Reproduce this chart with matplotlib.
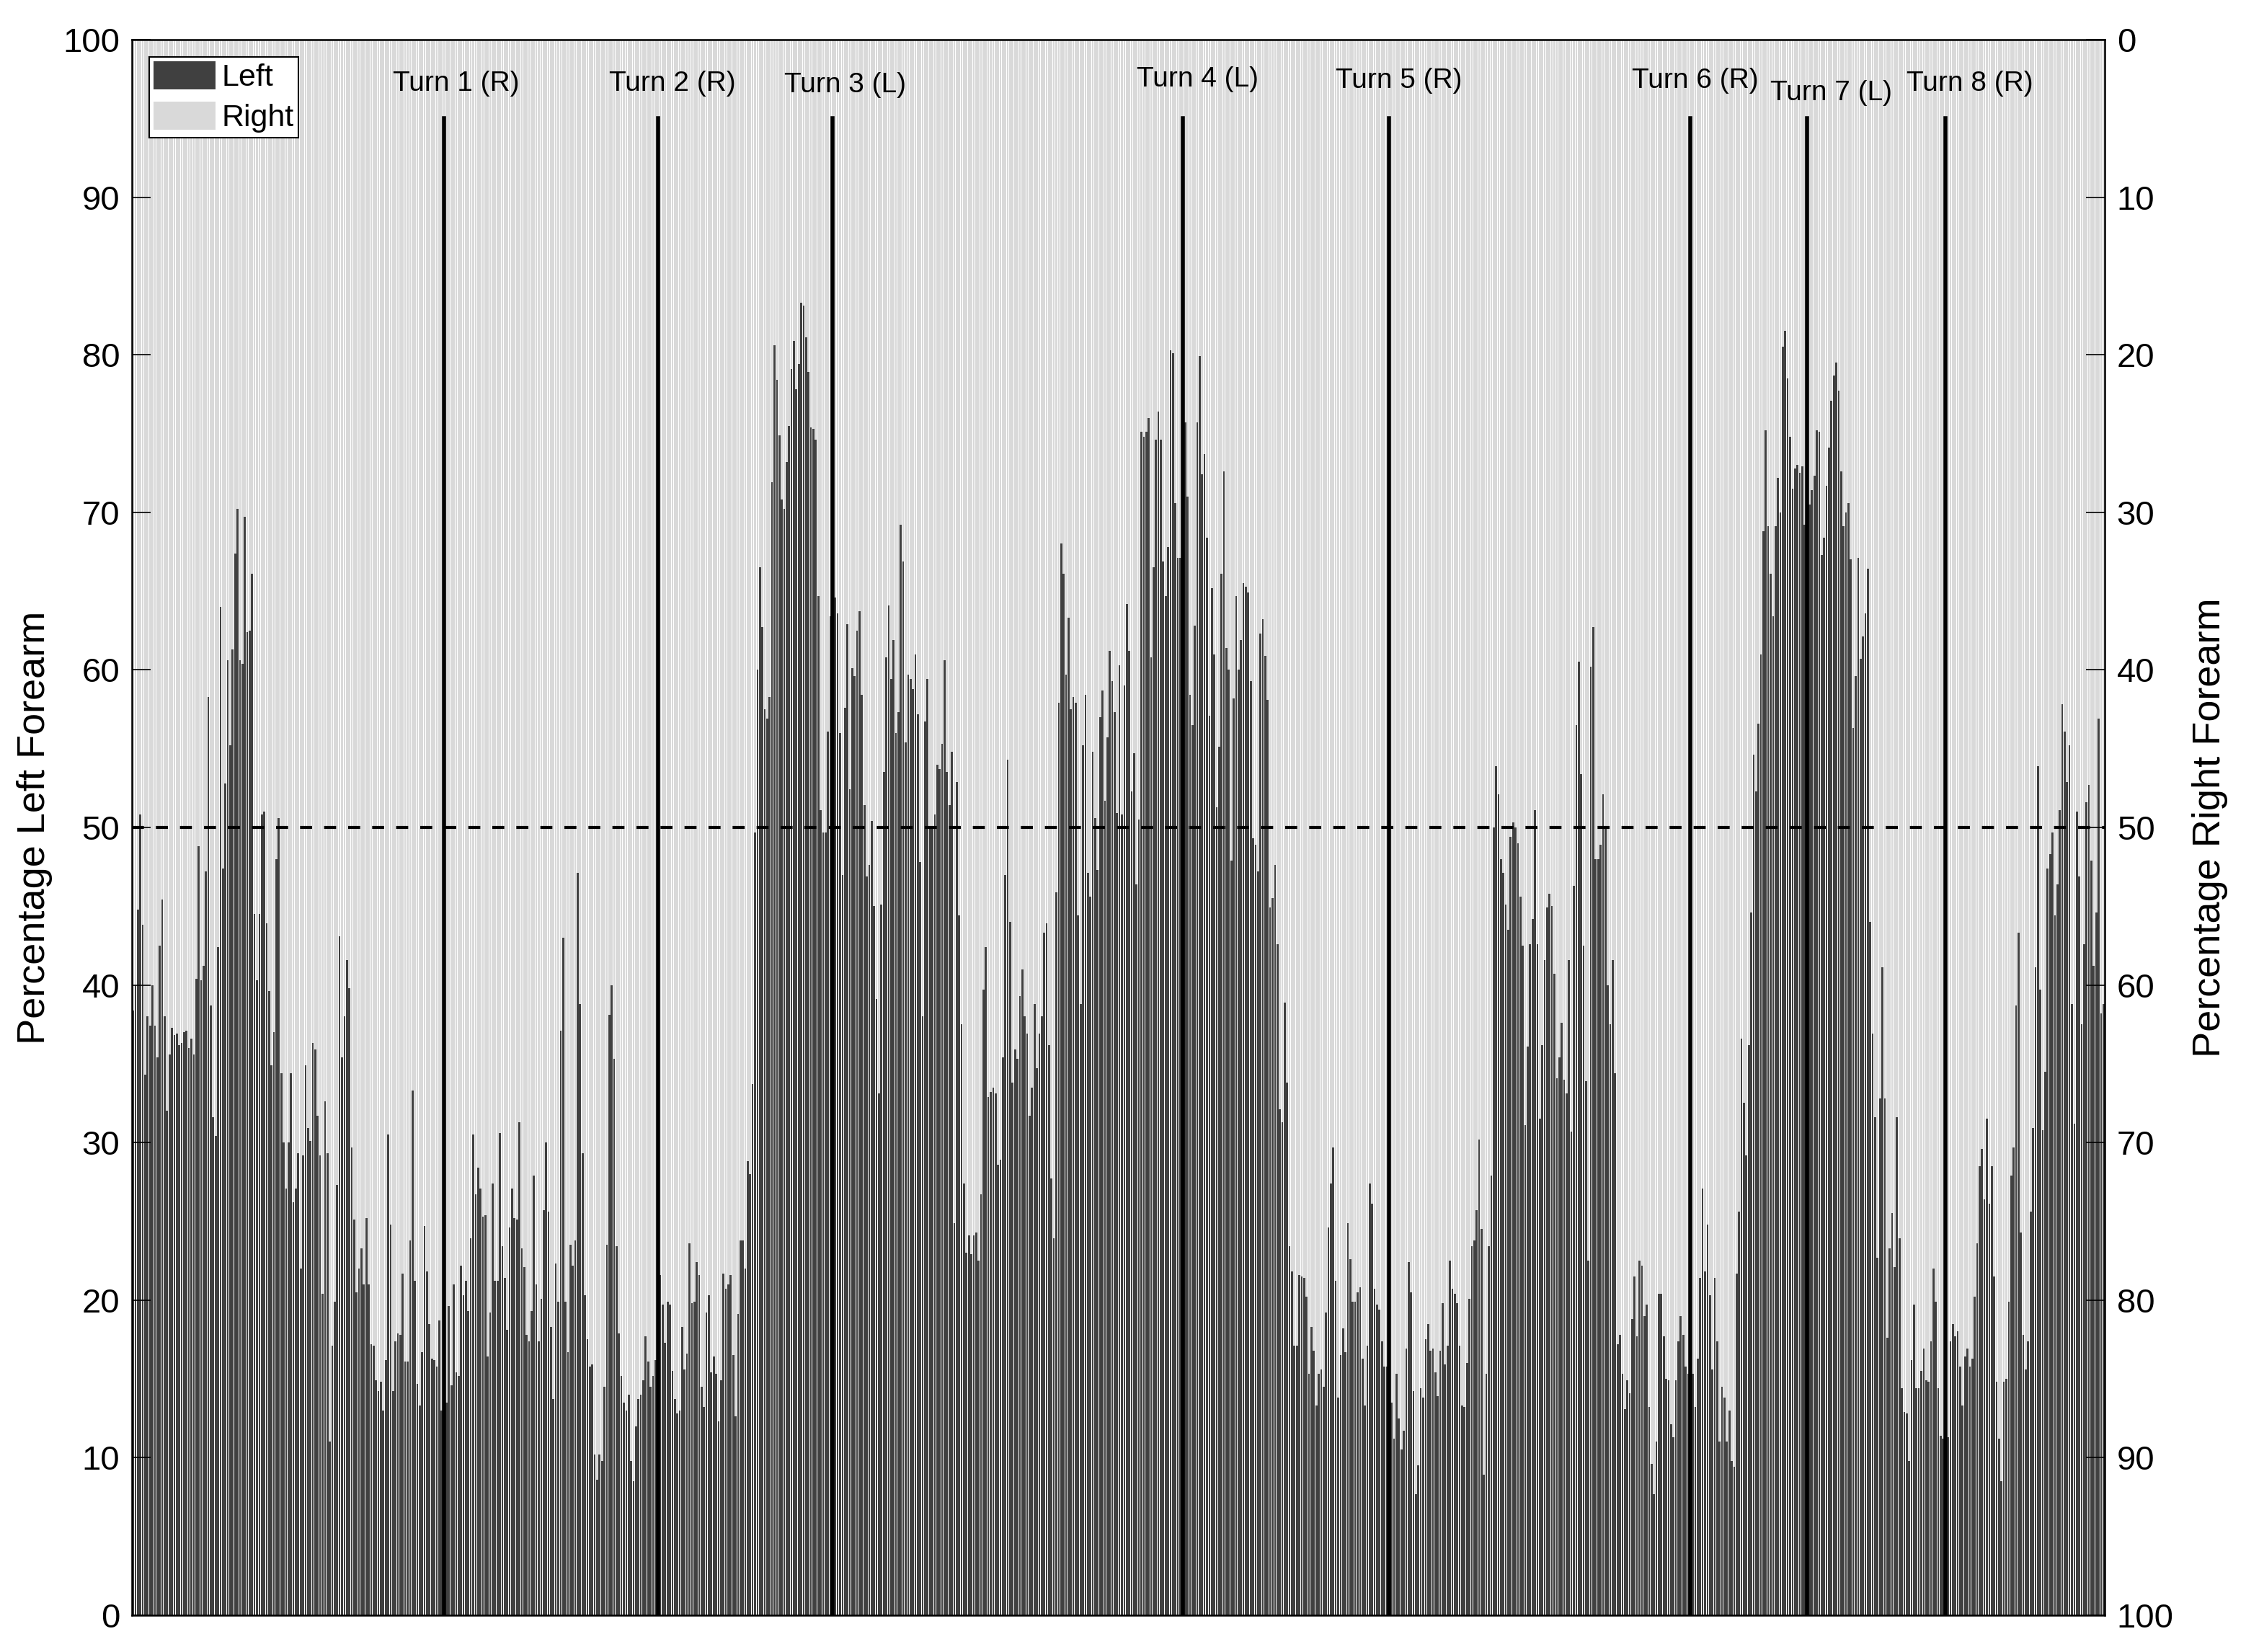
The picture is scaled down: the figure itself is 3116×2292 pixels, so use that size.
import numpy as np
import matplotlib.pyplot as plt

plt.rcParams['font.family'] = ['Liberation Sans', 'DejaVu Sans']

# percentage of activity on the left forearm, one value per sample
left_pct = [
    38.4, 40, 44.8, 50.8, 43.8, 34.3, 38, 37.4, 40, 37.4,
    35.4, 42.5, 45.4, 38, 32, 35.6, 37.3, 36.8, 36.9, 36.2,
    36.3, 37, 37.1, 36, 36.6, 35.6, 40.4, 48.8, 40.3, 41.2,
    47.2, 58.3, 38.7,
    31.6, 30.4, 42.4, 64, 47.4, 52.8, 60.6, 55.2, 61.3, 67.4,
    70.2, 60.6, 60.4, 69.7, 62.4, 62.5, 66.1, 44.5, 40.3, 44.5,
    50.8, 51, 43.9, 39.6, 34.9, 37, 48, 50.6, 34.4, 30,
    27.1, 30, 34.4, 26.2, 27.1, 29.3, 22, 29.2, 34.9, 30.9,
    30.1, 36.3, 35.9, 31.7, 29.2, 20.4, 32.6, 29.3, 11, 17.1,
    19.9, 27.3, 43.1, 35.4, 38, 41.6, 39.8, 29.7, 25.1, 20.5,
    22, 23.3, 21, 25.2, 21, 17.2, 17.1, 14.9, 14.2, 14.8,
    13, 16.2, 30.5, 24.8, 14.2, 17.4, 17.9, 17.8, 21.7, 16.1,
    16.1, 23.8, 33.3, 21.2, 14.7, 13.3, 16.7, 24.7, 21.8, 18.5,
    16.3, 16.2, 15.8, 18.7, 13, 13.6,
    # turn 1
    13.5, 19.6, 14.6, 21, 15.4, 15.2, 22.2, 20.3, 21.2, 19.3,
    23.9, 30.5, 26.7, 28.4, 27.1, 25.3, 25.4, 16.4, 19.2, 27.4,
    21.2, 21.2, 30.6, 23.4, 21.4, 18.1, 24.6, 27.1, 25.2, 25.1,
    31.3, 23.3, 22.1, 17.8, 17.4, 19.3, 27.9, 21, 17.4, 20.1, 25.7,
    30, 25.6, 18.3, 13.7, 22.3, 19.9, 37.1, 43, 19.9, 16.7,
    23.5, 22.2, 23.8, 47.1, 38.8, 29.3, 20.3, 17.5, 15.8, 15.9,
    10.2, 8.6, 10.2, 9.8, 14.5, 23.5, 38.1, 40, 35.3, 23.4,
    17.9, 15.2, 13.5, 13, 14, 9.8, 8.5, 12, 13.7, 14,
    14.9, 17.7, 16.1, 14.5, 15.2, 16.2,
    # turn 2
    16.8, 21.6, 19.7, 17.3, 19.9, 19.7, 15.5, 13.7, 12.8, 13,
    18.3, 15.6, 16.6, 23.6, 19.8, 19.9, 22.4, 21.6, 14.5, 13.2,
    19.2, 20.3, 15.4, 16.4, 15.3, 12.3, 14.9, 21.7, 20.7, 21,
    21.6, 16.5, 12.6, 19.1, 23.8, 23.8, 22, 28.8, 28, 33.7,
    49.7, 60, 66.5, 62.7, 57.5, 56.9, 58.3, 71.9, 80.6, 78.4,
    74.9, 70.8, 70.2, 73.2, 75.5, 79.1, 80.9, 77.8, 79.4, 83.3,
    83.1, 81.1, 78.9, 75.4, 75.3, 74.6, 64.7, 51.1, 49.7, 49.7,
    56.1, 63.4, 70.7,
    # turn 3
    64.6, 63.6, 56, 47, 57.6, 62.9, 52.4, 60.1, 59.6, 62.5,
    63.7, 58.4, 51.4, 46.9, 47.6, 50.4, 45, 39.1, 33.1, 45.1,
    53.5, 60.8, 64.1, 59.4, 61.9, 56, 57.3, 69.2, 66.9, 55.4,
    59.7, 59.4, 58.8, 61, 57.2, 47.8, 38, 56.7, 59.4, 49.9,
    50, 50.8, 54, 53.7, 55.3, 60.6, 53.5, 51.4, 54.8, 24.9,
    52.9, 44.4, 37.5, 27.4, 23, 24.1, 22.9, 24.1, 24.3, 22.5,
    26.7, 39.7, 42.4, 32.9, 33.2, 33.5, 33.1, 28.6, 28.9, 35.4,
    47, 54.3, 44, 33.8, 35.9, 35.3, 39.3, 41, 38, 36.9,
    31.7, 33.5, 38.8, 34.7, 36.9, 38, 43.3, 43.9, 36.2, 27.7,
    23.9, 45.9, 57.9, 68, 66.1, 59.7, 63.3, 57.5, 58.3, 57.9,
    44.4, 38.8, 55.2, 58.4, 47.1, 45.6, 54.8, 50.6, 47.3, 57,
    58.7, 51.7, 55.7, 61.2, 59.3, 57.3, 50.9, 60.3, 50.8, 59,
    64.2, 61.2, 52.3, 54.7, 46.4, 50.5, 75.1, 74.8, 75.1,
    76, 60.8, 66.5, 74.6, 76.4, 74.6, 66.9, 64.7, 67.8,
    80.3, 80.1, 70.6, 67.1, 67.1, 72.6, 75.7,
    # turn 4
    71, 58.4, 56.5, 62.8, 75.7, 79.9, 72.4, 73.7, 68.4, 57.1,
    65.2, 61, 51.3, 55.1, 66.1, 72.6, 61.4, 60, 47.9, 58.2,
    64.7, 60, 61.9, 65.5, 65.3, 64.9, 59.3, 49.3, 48.9, 47.2,
    62.3, 63.2, 60.9, 58.1, 44.9, 45.5, 47.6, 42.6, 32.1, 31.3,
    38.9, 33.8, 23.4, 21.8, 17.1, 17.1, 21.6, 21.5, 21.4, 20.2,
    15.3, 18.3, 16.8, 13.3, 15.3, 15.6, 14.5, 19.2, 24.6, 27.4,
    29.7, 21.2, 13.8, 16.5, 18.2, 16.7, 24.9, 22.6, 19.9, 19.9,
    20.5, 20.8, 16.3, 13.3, 17.1, 27.4, 26.1, 20.7, 19.7, 19.4,
    17.4, 15.8, 15.8, 15.5, 13.5,
    # turn 5
    11.2, 15.3, 12.5, 10.5, 11.7, 16.9, 22.4, 20.5, 14.2, 7.7,
    9.5, 14.4, 13.8, 17.5, 18.5, 16.8, 16.9, 15.4, 13.9, 16.8,
    19.8, 15.9, 17.1, 22.5, 20.7, 20.4, 19.8, 17.1, 13.3, 13.2,
    16, 20.1, 23.4, 23.8, 25.7, 30.2, 24.5, 8.9, 15.3, 23.4,
    27.9, 50, 53.9, 52.1, 48, 47.1, 45.1, 43.5, 49.4, 50.3,
    50, 49, 45.6, 42.5, 31.1, 36.1, 42.6, 44.2, 51.1, 42.6,
    31.5, 36.2, 41.6, 44.9, 45.8, 45, 40.7, 34.1, 35.4, 37.6,
    34, 33.1, 41.6, 30.7, 46.3, 56.5, 60.5, 53.4, 42.5, 33.9,
    22.5, 60.2, 62.7, 48, 48, 48.9, 52.1, 50, 40, 37.5,
    41.6, 34.4, 17.2, 17.8, 15.3, 13.1, 14.9, 14.1, 18.8, 21.5,
    17.7, 22.5, 22.2, 19, 19.7, 13.2, 9.6, 7.7, 11, 20.4,
    20.4, 17.7, 15, 14.9, 12.1, 11.3, 14.9, 17.4, 19, 17.8,
    15.8, 15.3, 18.3, 15.3,
    # turn 6
    13.2, 16.3, 21.4, 27.1, 21.8, 24.8, 20.3, 15.6, 21.4, 17.4,
    11, 14.5, 13.8, 11, 13, 9.8, 9.4, 21.7, 25.6, 36.6,
    32.5, 29.2, 36.2, 44.6, 54.6, 52.3, 56.6, 61, 68.8, 75.2,
    69.1, 66.1, 63.4, 69.1, 72.2, 70, 80.5, 81.5, 78.5, 74.8,
    71.5, 72.8, 73, 72.5, 72.9, 69.2, 68.4,
    # turn 7
    70.5, 71.4, 72.3, 75.2, 75.1, 67.3, 68.4, 71.7, 74.1, 77.1,
    78.7, 79.5, 77.7, 72.6, 69.1, 70, 70.6, 67, 56.3, 59.6,
    67.1, 60.7, 62.1, 63.6, 66.4, 44, 36.9, 31.6, 22.7, 32.8,
    41.1, 32.8, 17.6, 23.3, 25.5, 22.1, 31.6, 23.9, 14.4, 12.9,
    12.8, 9.8, 16.2, 19.7, 14.4, 14.4, 15.5, 16.9, 14.9, 14.8,
    17.4, 22, 19.9, 14.4, 11.4, 11.2, 9.7, 11.3,
    # turn 8
    17.4, 18.5, 17.7, 18, 15.8, 13.3, 16.4, 16.9, 15.8, 16.3,
    20.2, 23.6, 28.5, 29.6, 26.4, 31.5, 26.1, 28.5, 21.5, 14.8,
    11.2, 8.5, 14.8, 15, 19.9, 27.9, 29.7, 38.7, 43.3, 24.3,
    17.8, 15.6, 17.4, 25.6, 30.9, 41.1, 53.9, 39.7, 30.8, 34.5,
    47.4, 48.3, 49.7, 44.4, 46.4, 51.1, 57.8, 56.1, 52.9, 55.2,
    38.8, 31.2, 51, 46.9, 37.5, 42.6, 51.6, 52.7, 47.9, 41.2,
    44.6, 56.9, 38.2, 38.8,
]

# sample index of each turn and its label
turn_idx = [128, 216, 288, 432, 517, 641, 689, 746]
turn_labels = ['Turn 1 (R)', 'Turn 2 (R)', 'Turn 3 (L)', 'Turn 4 (L)',
               'Turn 5 (R)', 'Turn 6 (R)', 'Turn 7 (L)', 'Turn 8 (R)']

left = np.array(left_pct)
right = 100 - left
x = np.arange(len(left))

# label placement (offset in samples from the line, height in %)
label_dx = [5, 6, 5, 6, 4, 2, 10, 10]
label_y = [97.2, 97.2, 97.1, 97.5, 97.4, 97.4, 96.6, 97.2]

fig = plt.figure(figsize=(31.16, 22.92), dpi=100)
ax = fig.add_axes([0.0587, 0.0223, 0.8784, 0.9537])

b1 = ax.bar(x, left, width=0.8, color='#404040', linewidth=0, label='Left')
b2 = ax.bar(x, right, width=0.8, bottom=left, color='#d9d9d9', linewidth=0, label='Right')

ax.axhline(50, color='black', lw=3, ls=(0, (4, 4)))
for i, t in enumerate(turn_idx):
    ax.plot([t, t], [0, 95], color='black', lw=4)
    ax.text(t + label_dx[i], label_y[i], turn_labels[i], ha='center', va='center', fontsize=28)

ax.set_xlim(-0.5, len(left) - 0.5)
ax.set_ylim(0, 100)
ax.set_yticks(np.arange(0, 101, 10))
ax.set_xticks([])
ax.tick_params(axis='y', direction='in', length=19, width=1.2, labelsize=34, pad=12)
ax.set_ylabel('Percentage Left Forearm', fontsize=39, labelpad=10)
for s in ax.spines.values():
    s.set_linewidth(1.8)

ax2 = ax.twinx()
ax2.set_ylim(100, 0)
ax2.set_yticks(np.arange(0, 101, 10))
ax2.tick_params(axis='y', direction='in', length=19, width=1.2, labelsize=34, pad=12)
ax2.set_ylabel('Percentage Right Forearm', fontsize=39, labelpad=18)

leg = ax.legend(loc='upper left', fontsize=31, frameon=True, fancybox=False,
                edgecolor='black', framealpha=1, borderpad=0.15, labelspacing=0.3,
                handlelength=2.0, handleheight=1.0, handletextpad=0.2,
                borderaxespad=0.55)
leg.get_frame().set_linewidth(1.5)

fig.savefig('out.png', dpi=100)
